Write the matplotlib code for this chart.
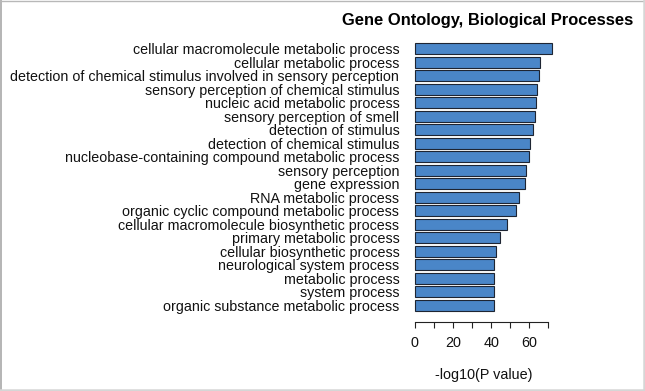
import numpy as np
import matplotlib.pyplot as plt
from matplotlib.lines import Line2D

plt.rcParams["font.family"] = ["Liberation Sans", "DejaVu Sans"]

# GO terms, top to bottom
terms = [
    "cellular macromolecule metabolic process",
    "cellular metabolic process",
    "detection of chemical stimulus involved in sensory perception",
    "sensory perception of chemical stimulus",
    "nucleic acid metabolic process",
    "sensory perception of smell",
    "detection of stimulus",
    "detection of chemical stimulus",
    "nucleobase-containing compound metabolic process",
    "sensory perception",
    "gene expression",
    "RNA metabolic process",
    "organic cyclic compound metabolic process",
    "cellular macromolecule biosynthetic process",
    "primary metabolic process",
    "cellular biosynthetic process",
    "neurological system process",
    "metabolic process",
    "system process",
    "organic substance metabolic process",
]
neg_log_p = [72.0, 65.5, 65.2, 64.0, 63.5, 62.8, 62.0, 60.4, 59.9, 58.3,
             57.6, 54.5, 53.1, 48.2, 44.7, 42.6, 41.5, 41.5, 41.4, 41.3]
x_ticks = [0, 10, 20, 30, 40, 50, 60, 70]
x_ticklabels = ["0", "", "20", "", "40", "", "60", ""]

W, H = 645, 391
fig = plt.figure(figsize=(W / 100, H / 100), dpi=100)

# axes placed in pixel terms
ax = fig.add_axes([409.0 / W, (H - 321.7) / H, 148.9 / W, 286.5 / H])
ypos = np.arange(len(terms))
ax.barh(ypos, neg_log_p, height=0.8, color="#4a86c8",
        edgecolor="#1e2533", linewidth=0.8)
ax.set_xlim(-3, 75)
ax.set_ylim(20.215, -1.0)

ax.set_yticks(ypos)
ax.set_yticklabels(terms, fontsize=10.3, color="#111111")
ax.tick_params(axis="y", length=0, pad=7)

ax.set_xticks(x_ticks)
ax.set_xticklabels(x_ticklabels, fontsize=10.4, color="#111111")
ax.tick_params(axis="x", length=4.3, width=0.8, pad=6, color="#222222")
ax.set_xlabel("-log10(P value)", fontsize=10.4, labelpad=13, color="#111111")

for s in ["top", "right", "left"]:
    ax.spines[s].set_visible(False)
ax.spines["bottom"].set_bounds(0, 70)
ax.spines["bottom"].set_linewidth(0.8)
ax.spines["bottom"].set_color("#222222")

fig.text(633 / W, 1 - 25 / H, "Gene Ontology, Biological Processes",
         ha="right", va="baseline", fontsize=11.9, fontweight="bold")

# frame around the picture
fig.add_artist(Line2D([0.8 / W, 0.8 / W], [0, 1], color="#a8a8a8", lw=1.2))
fig.add_artist(Line2D([0, 1], [1 - 0.6 / H, 1 - 0.6 / H], color="#b8b8b8", lw=1.0))
fig.add_artist(Line2D([1 - 1.2 / W, 1 - 1.2 / W], [0, 1], color="#d6d6d6", lw=1.8))
fig.add_artist(Line2D([0, 1], [1.2 / H, 1.2 / H], color="#d6d6d6", lw=1.8))

fig.savefig("out.png", dpi=100)
